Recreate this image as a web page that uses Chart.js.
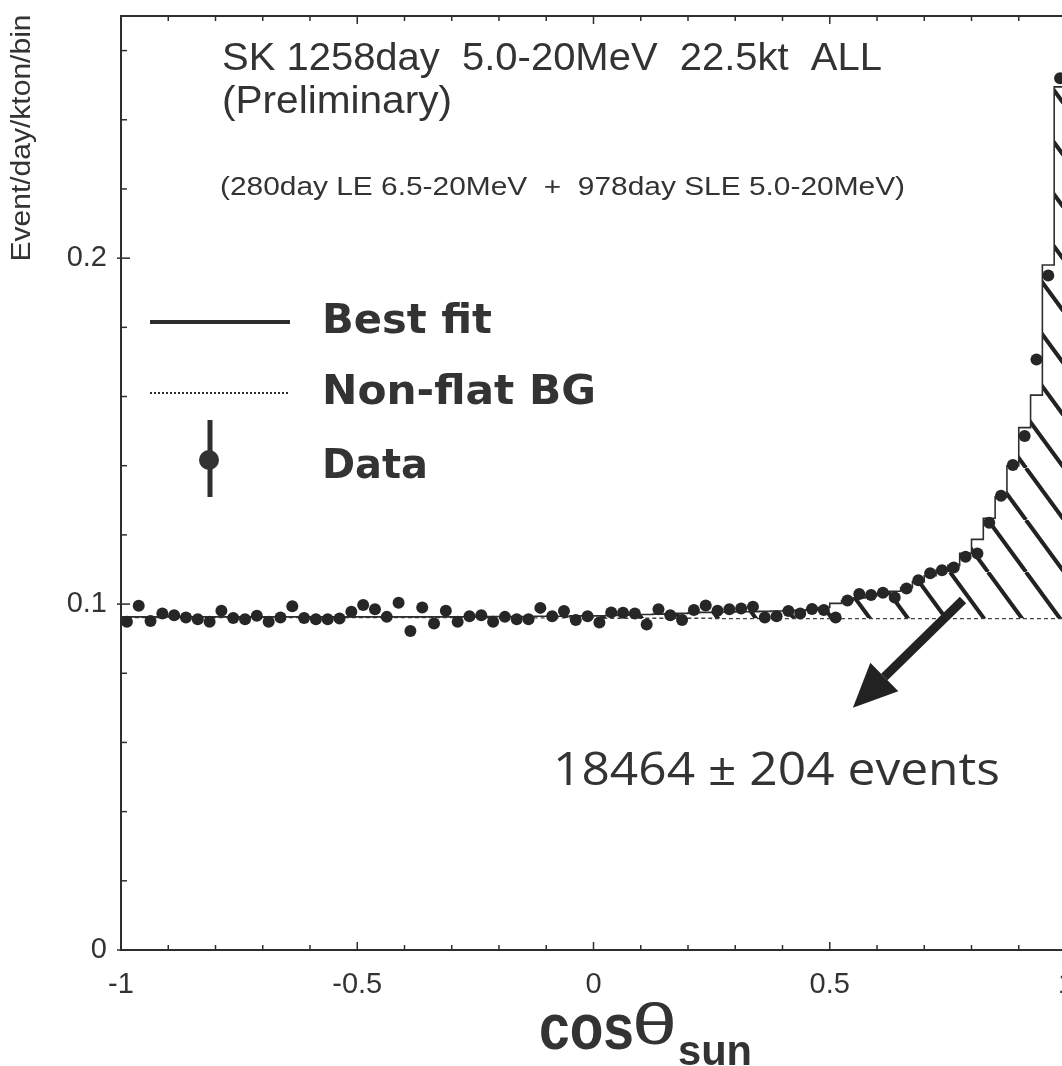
<!DOCTYPE html>
<html>
<head>
<meta charset="utf-8">
<script src="https://cdn.jsdelivr.net/npm/chart.js@4.4.1/dist/chart.umd.min.js"></script>
<style>
  html, body { margin: 0; padding: 0; background: #fff; overflow: hidden; }
</style>
</head>
<body>
<canvas id="c" width="1085" height="1066"></canvas>
<script>
// cos(theta_sun) histogram, 80 bins of 0.025 from -1 to 1
const binWidth = 0.025
const binLow = Array.from({ length: 81 }, (_, i) => -1 + i * binWidth)

// measured rate per bin (event/day/kton/bin)
const dataRate = [
  0.0949, 0.0995, 0.0951, 0.0973, 0.0968, 0.0961, 0.0956, 0.0949, 0.0981, 0.0960,
  0.0956, 0.0966, 0.0949, 0.0961, 0.0994, 0.0960, 0.0956, 0.0956, 0.0958, 0.0978,
  0.0997, 0.0985, 0.0963, 0.1004, 0.0922, 0.0990, 0.0944, 0.0981, 0.0949, 0.0965,
  0.0968, 0.0949, 0.0963, 0.0956, 0.0956, 0.0989, 0.0965, 0.0980, 0.0954, 0.0965,
  0.0947, 0.0976, 0.0975, 0.0973, 0.0941, 0.0985, 0.0968, 0.0954, 0.0983, 0.0996,
  0.0981, 0.0985, 0.0987, 0.0992, 0.0961, 0.0965, 0.0980, 0.0973, 0.0986, 0.0983,
  0.0961, 0.1010, 0.1029, 0.1026, 0.1033, 0.1019, 0.1045, 0.1069, 0.1089, 0.1098,
  0.1106, 0.1137, 0.1146, 0.1235, 0.1313, 0.1402, 0.1486, 0.1707, 0.1950, 0.2520
]

// best fit = BG + solar signal
const bestFit = [
  0.0963, 0.0963, 0.0963, 0.0963, 0.0963, 0.0963, 0.0963, 0.0963, 0.0963, 0.0963,
  0.0963, 0.0963, 0.0963, 0.0963, 0.0963, 0.0963, 0.0963, 0.0963, 0.0963, 0.0963,
  0.0963, 0.0963, 0.0963, 0.0963, 0.0963, 0.0963, 0.0963, 0.0963, 0.0963, 0.0963,
  0.0964, 0.0964, 0.0964, 0.0964, 0.0964, 0.0965, 0.0965, 0.0965, 0.0966, 0.0966,
  0.0966, 0.0967, 0.0968, 0.0970, 0.0970, 0.0971, 0.0972, 0.0973, 0.0975, 0.0976,
  0.0977, 0.0977, 0.0978, 0.0978, 0.0979, 0.0980, 0.0981, 0.0982, 0.0984, 0.0990,
  0.1002, 0.1010, 0.1018, 0.1024, 0.1030, 0.1037, 0.1048, 0.1065, 0.1082, 0.1098,
  0.1112, 0.1147, 0.1187, 0.1248, 0.1310, 0.1400, 0.1510, 0.1604, 0.1980, 0.2495
]

// non-flat background
const bgNonFlat = [
  0.0961, 0.0961, 0.0961, 0.0961, 0.0961, 0.0961, 0.0961, 0.0961, 0.0961, 0.0961,
  0.0961, 0.0961, 0.0961, 0.0961, 0.0961, 0.0961, 0.0961, 0.0961, 0.0961, 0.0961,
  0.0961, 0.0961, 0.0961, 0.0961, 0.0961, 0.0961, 0.0961, 0.0961, 0.0961, 0.0961,
  0.0960, 0.0960, 0.0960, 0.0960, 0.0960, 0.0960, 0.0960, 0.0960, 0.0960, 0.0960,
  0.0959, 0.0959, 0.0959, 0.0959, 0.0959, 0.0959, 0.0959, 0.0959, 0.0959, 0.0959,
  0.0958, 0.0958, 0.0958, 0.0958, 0.0958, 0.0958, 0.0958, 0.0958, 0.0958, 0.0958,
  0.0958, 0.0958, 0.0958, 0.0958, 0.0958, 0.0958, 0.0958, 0.0958, 0.0958, 0.0958,
  0.0958, 0.0958, 0.0958, 0.0958, 0.0958, 0.0958, 0.0958, 0.0958, 0.0958, 0.0958
]

const xMajor = 0.5   // labelled x ticks
const yMajor = 0.1   // labelled y ticks

const ink = '#2e2e2e'
const SANS = '"Liberation Sans", Arial, sans-serif'

// histogram points: one per bin edge, the last one repeats the last bin
const stepPts = vals => binLow.map((x, i) => ({ x, y: vals[Math.min(i, vals.length - 1)] }))
const dataPts = dataRate.map((y, i) => ({ x: binLow[i] + binWidth / 2, y }))

const isMult = (v, m) => Math.abs(v / m - Math.round(v / m)) < 1e-6

// diagonal hatch for the signal region
function hatchPattern() {
  const w = 38, h = 52
  const c = document.createElement('canvas')
  c.width = w; c.height = h
  const g = c.getContext('2d')
  g.strokeStyle = '#222'
  g.lineWidth = 4
  for (const dx of [-w, 0, w]) {
    g.beginPath(); g.moveTo(dx, 0); g.lineTo(dx + w, h); g.stroke()
  }
  return g.createPattern(c, 'repeat')
}

// text squeezed/stretched to a given width
function fitText(ctx, str, x, y, font, width, align = 'left') {
  ctx.save()
  ctx.font = font
  const m = ctx.measureText(str).width
  ctx.translate(x, y)
  ctx.scale(width / m, 1)
  ctx.textAlign = align
  ctx.textBaseline = 'middle'
  ctx.fillText(str, 0, 0)
  ctx.restore()
}

function seg(ctx, x1, y1, x2, y2) {
  ctx.beginPath(); ctx.moveTo(x1, y1); ctx.lineTo(x2, y2); ctx.stroke()
}

const decor = {
  id: 'decor',
  afterDraw(chart) {
    const { ctx, chartArea: a, scales: { x, y } } = chart
    ctx.save()
    ctx.strokeStyle = ink
    ctx.fillStyle = ink

    // top frame
    ctx.lineWidth = 2
    seg(ctx, a.left, a.top, a.right, a.top)

    // inward tick marks
    ctx.lineWidth = 1.5
    x.ticks.forEach(t => {
      const px = x.getPixelForValue(t.value)
      const len = isMult(t.value, xMajor) ? 8 : 5
      seg(ctx, px, a.bottom, px, a.bottom - len)
      seg(ctx, px, a.top, px, a.top + len)
    })
    y.ticks.forEach(t => {
      const py = y.getPixelForValue(t.value)
      const major = isMult(t.value, yMajor)
      seg(ctx, a.left - (major ? 4 : 0), py, a.left + (major ? 9 : 6), py)
    })

    // header
    ctx.fillStyle = '#333'
    fitText(ctx, 'SK 1258day  5.0-20MeV  22.5kt  ALL', 222, 60, '38px ' + SANS, 660)
    fitText(ctx, '(Preliminary)', 222, 103, '38px ' + SANS, 230)
    fitText(ctx, '(280day LE 6.5-20MeV  +  978day SLE 5.0-20MeV)', 220, 188, '25px ' + SANS, 685)

    // legend
    const LB = 'bold 41px "DejaVu Sans", sans-serif'
    ctx.lineWidth = 4
    seg(ctx, 150, 322, 290, 322)
    fitText(ctx, 'Best fit', 322, 322, LB, 170)
    ctx.lineWidth = 2
    ctx.setLineDash([2, 2])
    seg(ctx, 150, 393, 290, 393)
    ctx.setLineDash([])
    fitText(ctx, 'Non-flat BG', 322, 393, LB, 274)
    ctx.lineWidth = 5
    seg(ctx, 210, 420, 210, 497)
    ctx.beginPath(); ctx.arc(209, 460, 10, 0, Math.PI * 2); ctx.fill()
    fitText(ctx, 'Data', 322, 467, LB, 106)

    // arrow into the signal region
    const x0 = x.getPixelForValue(0.782), y0 = y.getPixelForValue(0.1012)
    const x1 = x.getPixelForValue(0.549), y1 = y.getPixelForValue(0.070)
    const ang = Math.atan2(y1 - y0, x1 - x0)
    const head = 44, half = 20
    const bx = x1 - head * Math.cos(ang), by = y1 - head * Math.sin(ang)
    ctx.fillStyle = '#222'
    ctx.strokeStyle = '#222'
    ctx.lineWidth = 9
    seg(ctx, x0, y0, bx, by)
    ctx.beginPath()
    ctx.moveTo(x1, y1)
    ctx.lineTo(bx + half * Math.sin(ang), by - half * Math.cos(ang))
    ctx.lineTo(bx - half * Math.sin(ang), by + half * Math.cos(ang))
    ctx.closePath()
    ctx.fill()

    ctx.fillStyle = '#333'
    fitText(ctx, '18464 \u00b1 204 events', 553, 772, '46px "Open Sans", sans-serif', 447)

    // axis titles
    ctx.save()
    ctx.translate(23, 138)
    ctx.rotate(-Math.PI / 2)
    fitText(ctx, 'Event/day/kton/bin', 0, 0, '27px ' + SANS, 247, 'center')
    ctx.restore()

    fitText(ctx, 'cos', 539, 1031, 'bold 64px ' + SANS, 95)
    fitText(ctx, '\u03b8', 632, 1028, '58px ' + SANS, 45)
    fitText(ctx, 'sun', 678, 1053, 'bold 42px ' + SANS, 74)

    ctx.restore()
  }
}

const hatch = hatchPattern()

new Chart(document.getElementById('c'), {
  type: 'line',
  data: {
    datasets: [
      {
        label: 'Data',
        data: dataPts,
        showLine: false,
        pointRadius: 6,
        pointBackgroundColor: '#262626',
        pointBorderWidth: 0
      },
      {
        label: 'Best fit',
        data: stepPts(bestFit),
        stepped: 'before',   // bin value holds from its low edge to the next edge
        borderColor: ink,
        borderWidth: 1.6,
        pointRadius: 0,
        fill: { target: 2, above: hatch, below: 'rgba(0,0,0,0)' }
      },
      {
        label: 'Non-flat BG',
        data: stepPts(bgNonFlat),
        stepped: 'before',
        borderColor: '#444',
        borderWidth: 1.4,
        borderDash: [4, 3],
        pointRadius: 0,
        fill: false
      }
    ]
  },
  options: {
    responsive: false,
    animation: false,
    layout: { padding: { left: 0, top: 16, right: 19, bottom: 0 } },
    plugins: {
      legend: { display: false },
      tooltip: { enabled: false }
    },
    scales: {
      x: {
        type: 'linear',
        min: -1,
        max: 1,
        grid: { display: false, drawTicks: false },
        border: { display: true, color: ink, width: 2 },
        ticks: {
          stepSize: 0.1,
          autoSkip: false,
          maxRotation: 0,
          padding: 18,
          color: '#333',
          font: { family: SANS, size: 29 },
          callback: v => isMult(v, xMajor) ? String(v) : ''
        },
        afterFit: s => {
          s.height = 116
          s.paddingLeft = 0
          s.paddingRight = 0
        }
      },
      y: {
        min: 0,
        max: 0.27,
        grid: { display: false, drawTicks: false },
        border: { display: true, color: ink, width: 2 },
        ticks: {
          stepSize: 0.02,
          includeBounds: false,
          autoSkip: false,
          padding: 14,
          color: '#333',
          font: { family: SANS, size: 29 },
          callback: v => isMult(v, yMajor) ? String(Math.round(v * 10) / 10) : ''
        },
        afterFit: s => {
          s.width = 121
          s.paddingTop = 0
          s.paddingBottom = 0
        }
      }
    }
  },
  plugins: [decor]
})
</script>
</body>
</html>
